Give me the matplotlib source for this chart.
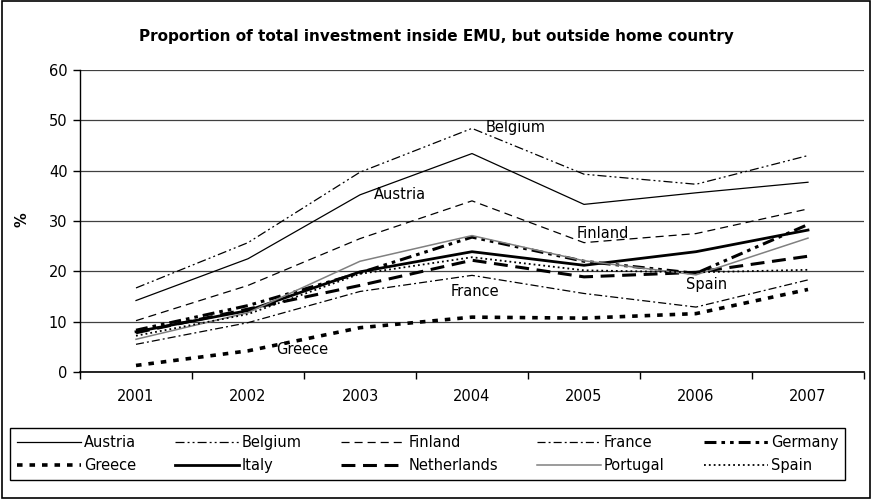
import matplotlib
matplotlib.use("Agg")
import matplotlib.pyplot as plt
from matplotlib.patches import Rectangle

years = ["2001", "2002", "2003", "2004", "2005", "2006", "2007"]

austria = [14.2, 22.5, 35.2, 43.4, 33.3, 35.6, 37.7]
belgium = [16.7, 25.7, 39.7, 48.4, 39.3, 37.3, 43.0]
finland = [10.2, 17.2, 26.5, 34.0, 25.7, 27.5, 32.4]
france = [5.5, 9.8, 16.0, 19.2, 15.6, 12.9, 18.3]
germany = [8.3, 13.2, 19.7, 26.8, 22.0, 19.6, 29.3]
greece = [1.3, 4.2, 8.8, 10.9, 10.7, 11.6, 16.4]
italy = [8.0, 12.2, 19.9, 23.9, 21.2, 23.9, 28.2]
netherlands = [7.8, 12.5, 17.2, 22.2, 18.9, 19.8, 23.0]
portugal = [6.5, 11.8, 22.0, 27.1, 22.1, 19.3, 26.6]
spain = [7.2, 11.5, 19.5, 22.8, 20.2, 19.8, 20.3]

plt.rcParams['font.family'] = ['DejaVu Sans']
plt.rcParams['lines.scale_dashes'] = False

fig = plt.figure(figsize=(8.72, 4.99), dpi=100)
ax = fig.add_axes([80 / 872, 1 - 372 / 499, 784 / 872, 302 / 499])

x = range(len(years))
styles = [
    ("Austria", austria, dict(color="black", lw=0.9)),
    ("Belgium", belgium, dict(color="black", lw=0.9, dashes=(6.5, 2.2, 1.4, 2.2, 1.4, 2.2))),
    ("Finland", finland, dict(color="black", lw=0.9, dashes=(5.8, 3.6))),
    ("France", france, dict(color="black", lw=0.9, dashes=(5.8, 2.2, 1.4, 2.2))),
    ("Germany", germany, dict(color="black", lw=2.2, dashes=(8.6, 3.6, 2.6, 3.6, 2.6, 3.6))),
    ("Greece", greece, dict(color="black", lw=2.6, dashes=(4.0, 5.0))),
    ("Italy", italy, dict(color="black", lw=2.0)),
    ("Netherlands", netherlands, dict(color="black", lw=2.2, dashes=(10, 5.5))),
    ("Portugal", portugal, dict(color="#808080", lw=1.1)),
    ("Spain", spain, dict(color="black", lw=1.3, dashes=(1.3, 2.2))),
]

handles = []
for name, vals, kw in styles:
    h, = ax.plot(x, vals, label=name, **kw)
    handles.append(h)

ax.set_xlim(-0.5, 6.5)
ax.set_ylim(0, 60)
ax.set_yticks(range(0, 61, 10))
ax.set_xticks(list(x))
ax.set_xticklabels(years)
ax.set_xticks([i + 0.5 for i in range(-1, 7)], minor=True)
ax.tick_params(axis='x', which='major', length=0, pad=12, labelsize=10.5)
ax.tick_params(axis='x', which='minor', length=5, width=1, direction='out')
ax.tick_params(axis='y', length=5, width=1, pad=4, labelsize=10.5)
ax.yaxis.grid(True, color="#404040", lw=0.9)
ax.set_axisbelow(True)
for s in ["top", "right"]:
    ax.spines[s].set_visible(False)
ax.spines["left"].set_linewidth(1.0)
ax.spines["bottom"].set_linewidth(1.2)

# series labels on the chart
ax.text(3.12, 48.5, "Belgium", fontsize=10.5, va="center")
ax.text(2.12, 35.2, "Austria", fontsize=10.5, va="center")
ax.text(3.93, 27.6, "Finland", fontsize=10.5, va="center")
ax.text(2.81, 15.9, "France", fontsize=10.5, va="center")
ax.text(4.91, 17.3, "Spain", fontsize=10.5, va="center")
ax.text(1.25, 4.4, "Greece", fontsize=10.5, va="center")

fig.text(436 / 872, 1 - 37 / 499,
         "Proportion of total investment inside EMU, but outside home country",
         ha="center", va="center", fontsize=11, fontweight="bold")
fig.text(22 / 872, 1 - 220 / 499, "%", rotation=90, ha="center", va="center",
         fontsize=10.5, fontweight="bold")

# row-major order for 2 rows x 5 columns
order = [0, 5, 1, 6, 2, 7, 3, 8, 4, 9]
leg = fig.legend([handles[i] for i in order], [styles[i][0] for i in order],
                 ncol=5, loc="lower left", mode="expand",
                 bbox_to_anchor=(10 / 872, 1 - 480 / 499, 835 / 872, 55 / 499),
                 bbox_transform=fig.transFigure, fontsize=10.5, borderaxespad=0,
                 handlelength=4.4, handletextpad=0.2, labelspacing=0.6,
                 borderpad=0.45, fancybox=False, framealpha=1)
leg.get_frame().set_edgecolor("black")
leg.get_frame().set_linewidth(1.0)

fig.patches.append(Rectangle((0.002, 0.002), 0.996, 0.996, transform=fig.transFigure,
                             fill=False, edgecolor="black", lw=1.2))

fig.savefig("out.png", dpi=100)
